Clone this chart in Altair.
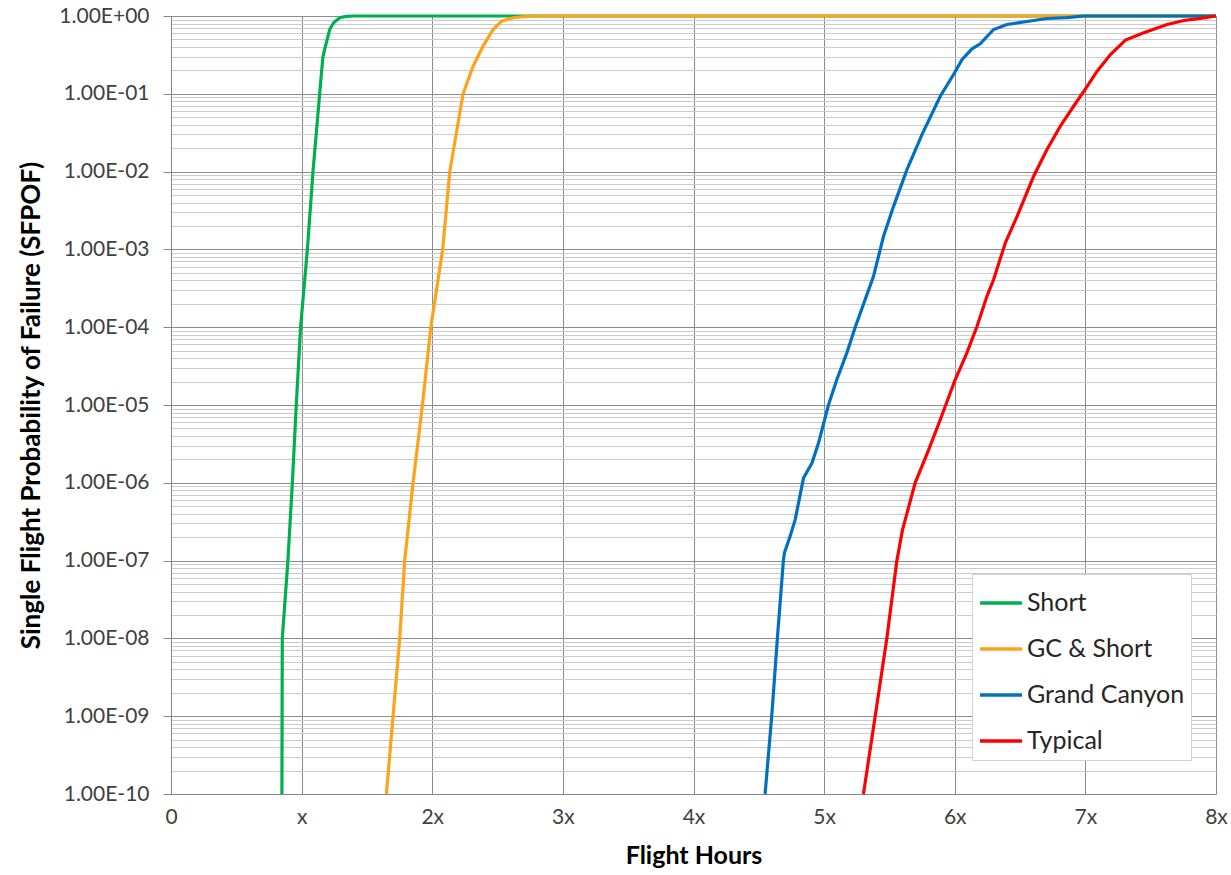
import altair as alt
import pandas as pd

# Flight hours (in multiples of x) and single flight probability of failure per usage spectrum
short_hours = [0.849, 0.852, 0.895, 0.929, 0.959, 0.992, 1.044, 1.087, 1.138, 1.163,
               1.189, 1.215, 1.245, 1.291, 1.343, 1.40, 8.0]
short_pof = [1e-10, 1e-8, 1e-7, 1e-6, 1e-5, 1e-4, 1e-3, 1e-2, 1e-1, 0.30,
             0.45, 0.67, 0.82, 0.95, 0.99, 1.0, 1.0]

gc_short_hours = [1.649, 1.700, 1.751, 1.789, 1.853, 1.925, 1.989, 2.080, 2.134, 2.236,
                  2.313, 2.389, 2.466, 2.530, 2.619, 2.720, 2.80, 8.0]
gc_short_pof = [1e-10, 1e-9, 1e-8, 1e-7, 1e-6, 1e-5, 1e-4, 1e-3, 1e-2, 1e-1,
                0.226, 0.41, 0.67, 0.86, 0.95, 0.99, 1.0, 1.0]

grand_canyon_hours = [4.548, 4.599, 4.642, 4.688, 4.696, 4.739, 4.778, 4.842, 4.906, 4.957,
                      5.033, 5.097, 5.174, 5.238, 5.314, 5.378, 5.455, 5.531, 5.634, 5.749,
                      5.889, 5.991, 6.055, 6.132, 6.195, 6.297, 6.400, 6.604, 6.706, 6.860,
                      6.990, 8.0]
grand_canyon_pof = [1e-10, 1e-9, 1e-8, 1e-7, 1.26e-7, 2.04e-7, 3.34e-7, 1.15e-6, 1.78e-6, 3.24e-6,
                    1e-5, 2.11e-5, 4.68e-5, 1e-4, 2.26e-4, 4.51e-4, 1.48e-3, 3.55e-3, 1.06e-2, 2.99e-2,
                    9.3e-2, 0.177, 0.275, 0.378, 0.439, 0.67, 0.778, 0.875, 0.929, 0.955,
                    1.0, 1.0]

typical_hours = [5.301, 5.391, 5.480, 5.557, 5.600, 5.697, 5.800, 5.889, 6.003, 6.093,
                 6.170, 6.247, 6.297, 6.387, 6.477, 6.604, 6.706, 6.808, 6.910, 7.006,
                 7.090, 7.192, 7.307, 7.447, 7.626, 7.754, 7.880, 8.0]
typical_pof = [1e-10, 1e-9, 1e-8, 1e-7, 2.48e-7, 1e-6, 2.65e-6, 6.46e-6, 2.11e-5, 4.68e-5,
               1.02e-4, 2.51e-4, 4.07e-4, 1.21e-3, 2.66e-3, 8.71e-3, 1.92e-2, 3.83e-2, 6.92e-2, 0.119,
               0.195, 0.32, 0.49, 0.608, 0.778, 0.875, 0.933, 1.0]

series_names = ["Short", "GC & Short", "Grand Canyon", "Typical"]
series_colors = ["#00B050", "#FFA119", "#0070C0", "#FF0000"]

x_ticks = [0, 1, 2, 3, 4, 5, 6, 7, 8]
y_ticks = [m * 10.0 ** e for e in range(-10, 0) for m in range(1, 10)] + [1.0]

frames = []
for name, hrs, pof in [
    ("Short", short_hours, short_pof),
    ("GC & Short", gc_short_hours, gc_short_pof),
    ("Grand Canyon", grand_canyon_hours, grand_canyon_pof),
    ("Typical", typical_hours, typical_pof),
]:
    frames.append(pd.DataFrame({"series": name, "hours": hrs, "sfpof": pof}))
data = pd.concat(frames, ignore_index=True)

FONT = "Lato"
lg = "log(datum.value)/LN10"
major = f"abs({lg} - round({lg})) < 0.001"
label_expr = (
    f"{major} ? ('1.00E' + (round({lg}) < 0 ? '-' : '+') + "
    f"(abs(round({lg})) < 10 ? '0' : '') + abs(round({lg}))) : ''"
)

x_enc = alt.X(
    "hours:Q",
    scale=alt.Scale(domain=[0, 8], nice=False),
    axis=alt.Axis(
        values=x_ticks,
        labelExpr="datum.value == 0 ? '0' : (datum.value == 1 ? 'x' : datum.value + 'x')",
        title="Flight Hours",
        titleFont=FONT, titleFontSize=25, titleFontWeight="bold", titleColor="#000000",
        titlePadding=16,
        labelFont=FONT, labelFontSize=21, labelColor="#404040", labelPadding=12,
        ticks=False,
        gridColor="#8c8c8c", gridWidth=1,
        domainColor="#868686", domainWidth=1,
        labelFlush=False,
    ),
)

y_enc = alt.Y(
    "sfpof:Q",
    scale=alt.Scale(type="log", domain=[1e-10, 1], nice=False),
    axis=alt.Axis(
        values=y_ticks,
        labelExpr=label_expr,
        labelOverlap=False,
        title="Single Flight Probability of Failure (SFPOF)",
        titleFont=FONT, titleFontSize=26, titleFontWeight="bold", titleColor="#000000",
        titleAngle=270, titleX=-140, titleY=389, titleAlign="center", titleBaseline="middle",
        labelFont=FONT, labelFontSize=21, labelColor="#404040", labelPadding=14,
        tickSize=8, tickColor="#868686",
        tickOpacity={"condition": {"test": major, "value": 1}, "value": 0},
        gridColor={"condition": {"test": major, "value": "#8c8c8c"}, "value": "#cbcbcb"},
        gridWidth=1,
        domainColor="#868686", domainWidth=1,
        labelFlush=False,
    ),
)

color_enc = alt.Color(
    "series:N",
    scale=alt.Scale(domain=series_names, range=series_colors),
    legend=alt.Legend(
        title=None,
        orient="none", legendX=801, legendY=558,
        direction="vertical",
        fillColor="#ffffff", strokeColor="#d0d0d0",
        padding=6,
        symbolType="stroke", symbolStrokeWidth=3.5, symbolSize=1764,
        labelFont=FONT, labelFontSize=25, labelColor="#262626", labelOffset=3,
        rowPadding=10,
    ),
)

layers = []
for name in series_names:
    layers.append(
        alt.Chart(data)
        .transform_filter(alt.datum.series == name)
        .mark_line(strokeWidth=3.2)
        .encode(x=x_enc, y=y_enc, color=color_enc)
    )

chart = (
    alt.layer(*layers)
    .properties(
        width=1045, height=778,
        padding={"left": 171, "top": 16, "right": 15, "bottom": 81},
        autosize="none",
        background="#ffffff",
    )
    .configure_view(strokeWidth=0)
)

chart.save("out.html", embed_options={"renderer": "svg", "actions": False})
